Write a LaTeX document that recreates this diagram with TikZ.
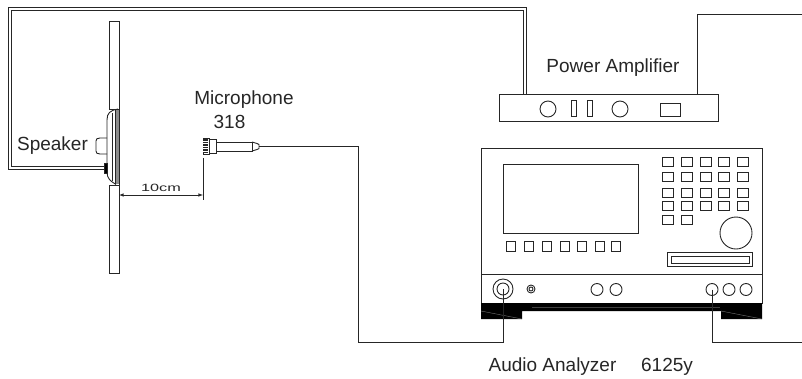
\documentclass[tikz,border=0pt]{standalone}
\usepackage{fontspec}
\usepackage{graphicx}
\setmainfont{Liberation Sans}
\tikzset{%
  label/.style   = {inner sep=0pt, font=\fontsize{19}{21}\selectfont},%
  dimtext/.style = {inner sep=0pt, font=\fontsize{10.5}{12}\selectfont},%
  box/.style     = {shape=rectangle, draw, inner sep=0pt},%
  knob/.style    = {shape=circle, draw, inner sep=0pt},%
  key/.style     = {box, minimum width=11pt, minimum height=9pt},%
  softkey/.style = {box, minimum width=9pt, minimum height=10pt},%
  socket/.style  = {knob, minimum size=12pt},%
  wire/.style    = {line width=0.9pt},%
  cable/.style   = {line width=0.9pt, double, double distance=2.6pt}%
}
\begin{document}
\begin{tikzpicture}[x=1pt,y=-1pt,line width=0.9pt,color=black!85]
	\useasboundingbox (0,0) rectangle (802,378);
	% baffle and speaker
	\node [box, minimum width=9.5pt, minimum height=87.5pt] (baffletop) at (114.2,65.2) {};
	\node [box, minimum width=9.5pt, minimum height=88pt] (bafflebot) at (114.2,229) {};
	\fill [black!45] (115.5,110) rectangle (119,184);
	\draw (119,109.5) -- (119,185);
	\draw (115.5,110) -- (115.5,184);
	\draw (112,113) -- (112,181);
	\draw (118,109) .. controls (110,110.5) and (107,113) .. (107,120) -- (107,172)
		.. controls (107,178) and (110,181) .. (116,184.5);
	\draw (107,138) -- (100,138) .. controls (97,138) and (96,139) .. (96,141) -- (96,151)
		.. controls (96,153) and (97,154) .. (100,154) -- (107,154);
	\node [box, fill=black, minimum width=3pt, minimum height=10pt] (jack) at (105.8,168) {};
	\node [label] (speaker) at (52.5,145.5) {Speaker};
	% microphone
	\node [box, minimum width=6pt, minimum height=16pt] (michead) at (206,146) {};
	\fill (203,139) rectangle (208,153);
	\foreach \y in {141,143.5,...,151}
		\draw [white, line width=0.4pt] (203,\y) -- (208,\y);
	\node [box, minimum width=7pt, minimum height=14pt] (micring) at (212.5,146) {};
	\node [box, minimum width=36pt, minimum height=9pt] (micbody) at (234,146.5) {};
	\draw (252,142) -- (257,143.5) -- (259,144.5) -- (259,148.5) -- (257,149.5) -- (252,151);
	\node [label] (micname) at (244,100) {Microphone};
	\node [label] (micnum) at (229.5,121.5) {318};
	\coordinate (mictip) at (259,146.5);
	% distance
	\coordinate (dimtop) at (203,158);
	\coordinate (dimbot) at (203,200);
	\coordinate (dimleft) at (119,195);
	\draw [line width=0.7pt] (dimtop) -- (dimbot);
	\draw [latex-latex, line width=0.6pt] (dimleft) -- (dimleft -| dimtop);
	\node [dimtext] (dist) at (161,187.5) {\scalebox{1.55}[1]{10cm}};
	% amplifier
	\node [box, minimum width=219pt, minimum height=27pt] (amp) at (608.5,107.5) {};
	\node [knob, minimum size=16pt] (ampknoba) at (548,109) {};
	\node [box, minimum width=5pt, minimum height=16pt] (ampbara) at (573.5,108) {};
	\node [box, minimum width=5pt, minimum height=16pt] (ampbarb) at (589.5,108) {};
	\node [knob, minimum size=16pt] (ampknobb) at (620,109) {};
	\node [box, minimum width=20pt, minimum height=13pt] (ampdisp) at (670,109.5) {};
	\node [label] (ampname) at (613,68) {Power Amplifier};
	% analyzer
	\node [box, minimum width=281pt, minimum height=155pt] (analyzer) at (621.5,225.5) {};
	\draw (481,274) -- (762,274);
	\node [box, minimum width=135pt, minimum height=69pt] (screen) at (570.5,198.5) {};
	\foreach \n/\x in {1/511,2/529,3/547,4/565,5/582,6/600,7/616}
		\node [softkey] (soft\n) at (\x,246) {};
	\foreach \n/\x in {1/668,2/687,3/706,4/724,5/743}
		\foreach \m/\y in {1/162,2/177,3/192.5,4/206}
			\node [key] (key\m\n) at (\x,\y) {};
	\node [key] (key51) at (668,220) {};
	\node [key] (key52) at (687,220) {};
	\node [knob, minimum size=32pt] (dial) at (736,233) {};
	\node [box, minimum width=85pt, minimum height=14pt] (slot) at (709.5,259) {};
	\node [box, minimum width=78pt, minimum height=7pt] (slotin) at (710,259.5) {};
	\node [knob, minimum size=20pt] (inputout) at (503,289) {};
	\node [knob, minimum size=12pt] (input) at (503,289) {};
	\node [knob, minimum size=8pt] (trimout) at (531,289) {};
	\node [knob, minimum size=4pt] (trim) at (531,289) {};
	\node [socket] (socka) at (597,289.5) {};
	\node [socket] (sockb) at (616,289.5) {};
	\node [socket] (output) at (712,289.5) {};
	\node [socket] (sockc) at (729,289.5) {};
	\node [socket] (sockd) at (746,289.5) {};
	% black base with feet
	\fill [black] (481,303) -- (762,303) -- (762,319) -- (721,319) -- (721,311) -- (522,311) -- (522,319) -- (481,319) -- cycle;
	\draw [black!75, line width=0.3pt] (532,307.5) -- (720,307.5);
	\draw [black!55, line width=0.4pt] (481,311) -- (522,319);
	\draw [black!55, line width=0.4pt] (721,311) -- (762,319);
	\node [label] (ananame) at (552.5,367) {Audio Analyzer};
	\node [label] (ananum) at (667,367) {6125y};
	% wiring
	\coordinate (ampin) at (525,94);
	\coordinate (ampout) at (697,94);
	\coordinate (endtop) at (802,14);
	\coordinate (endbot) at (802,342);
	\draw [cable] (jack.west) -| (10,9) -| (ampin);
	\draw [wire] (ampout) |- (endtop);
	\draw [wire] (mictip) -| (358,342) -| (input.center);
	\draw [wire] (output.center) |- (endbot);
\end{tikzpicture}
\end{document}
